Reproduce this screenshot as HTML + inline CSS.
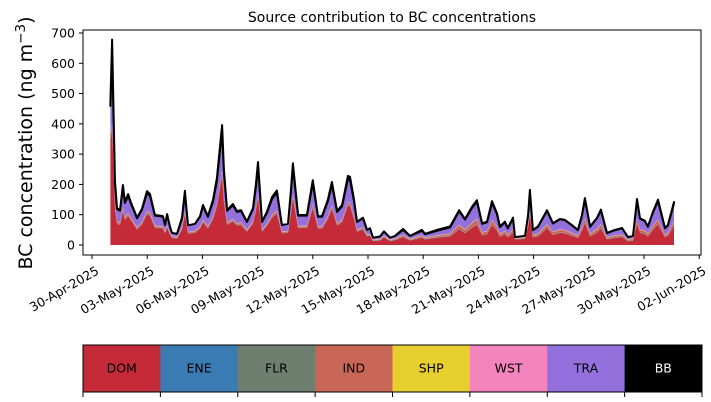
<!DOCTYPE html>
<html><head><meta charset="utf-8">
<style>
html,body{margin:0;padding:0;background:#fff;}
svg{display:block;font-family:"DejaVu Sans","Liberation Sans",sans-serif;}
</style></head>
<body>
<svg id="chart" width="711" height="402" viewBox="0 0 711 402" xmlns="http://www.w3.org/2000/svg">
<text x="392" y="22" font-size="14" text-anchor="middle">Source contribution to BC concentrations</text>
<text transform="translate(32,143) rotate(-90)" font-size="19" text-anchor="middle">BC concentration (ng m<tspan font-size="13.5" dy="-7">−3</tspan><tspan dy="7">)</tspan></text>
<g id="layers"></g>
<g id="yaxis"></g>
<g id="xaxis"></g>
<rect x="83" y="30" width="618" height="225" fill="none" stroke="#000" stroke-width="1"/>
<g id="cbar"></g>
</svg>
<script>
const days=[0,0.09,0.25,0.36,0.52,0.68,0.79,0.96,1.12,1.45,1.72,1.99,2.15,2.42,2.7,2.86,2.97,3.08,3.24,3.35,3.62,3.89,4.05,4.22,4.6,4.87,5.03,5.3,5.58,5.79,6.07,6.17,6.34,6.66,6.88,7.1,7.42,7.75,7.91,8.02,8.24,8.51,8.78,9.05,9.32,9.65,9.81,9.92,10.2,10.68,11.0,11.28,11.5,11.82,12.04,12.32,12.59,12.91,13.02,13.24,13.4,13.73,13.95,14.11,14.27,14.65,14.87,15.2,15.47,15.91,16.28,16.93,17.1,17.75,18.46,18.95,19.27,19.65,19.92,20.2,20.47,20.74,21.01,21.17,21.44,21.6,21.88,21.99,22.53,22.7,22.8,22.96,23.24,23.73,24.05,24.43,24.7,25.08,25.41,25.63,25.79,26.07,26.45,26.66,26.99,27.32,27.81,28.13,28.4,28.62,28.78,29.05,29.21,29.49,29.76,30.14,30.3,30.63];
const total=[473,678,209,122,115,198,143,168,140,90,120,178,168,99,97,95,66,102,60,40,37,90,179,65,70,95,132,95,150,221,396,250,115,135,112,115,77,122,200,274,77,110,158,180,66,70,180,270,99,99,214,95,95,150,208,112,132,228,225,150,77,90,50,55,24,28,45,24,30,53,30,50,37,50,61,115,86,126,148,72,77,145,105,61,77,56,90,26,30,100,182,50,61,115,72,86,83,66,50,100,155,61,90,117,40,48,56,26,30,152,88,80,61,110,150,56,66,142];
const dom=[350,380,120,70,66,113,82,96,80,51,68,101,96,56,55,54,38,58,34,23,21,51,102,37,40,54,75,54,86,126,226,143,66,77,64,66,44,70,114,156,44,63,90,103,38,40,103,154,56,56,122,54,54,86,119,64,75,130,128,86,44,51,28,31,13,15,25,13,16,26,15,24,18,24,28,52,39,57,67,32,35,65,47,27,35,25,40,18,20,60,100,25,28,55,33,40,38,30,23,47,72,28,41,54,18,22,26,12,14,70,40,36,28,50,68,25,30,64];
const ind=[15,20,8,5,5,8,6,7,6,4,5,7,7,4,4,4,3,4,2,2,2,4,7,3,3,4,5,4,6,9,16,10,5,5,4,5,3,5,8,11,3,4,6,7,3,3,7,11,4,4,9,4,4,6,8,4,5,9,9,6,3,4,2,2,1,1,2,1,2,4,2,4,3,4,6,12,9,13,15,7,8,14,10,6,8,6,9,1,2,6,10,4,6,10,7,8,8,6,5,9,14,6,9,11,4,5,5,3,3,13,8,8,6,10,13,5,6,12];
const tra=[90,230,70,40,38,65,47,55,46,29,40,59,55,33,32,31,21,34,20,11,10,29,59,21,23,31,44,31,49,73,131,83,38,45,37,38,25,40,66,90,25,36,52,59,21,23,59,89,33,33,70,31,31,49,69,37,44,75,74,49,25,29,16,18,6,8,14,6,8,16,9,15,11,15,20,44,32,48,57,27,28,56,40,22,28,20,35,3,4,28,62,16,22,44,27,33,32,25,17,38,60,22,35,45,13,16,20,7,9,60,35,31,22,44,60,21,25,57];
const sources=["DOM","ENE","FLR","IND","SHP","WST","TRA","BB"];
const colors=["#c42a37","#3b7bb3","#6e7f70","#c96757","#e6cf2e","#f484bd","#9370db","#000000"];
const yTicks=[0,100,200,300,400,500,600,700];
const xTickLabels=["30-Apr-2025","03-May-2025","06-May-2025","09-May-2025","12-May-2025","15-May-2025","18-May-2025","21-May-2025","24-May-2025","27-May-2025","30-May-2025","02-Jun-2025"];
const xTickDays=[-1,2,5,8,11,14,17,20,23,26,29,32];

const NS="http://www.w3.org/2000/svg";
function X(d){return 110.4+d*18.4;}
function Y(v){return 245-v*0.3029;}
const n=days.length;
const ene=days.map(()=>1),flr=days.map(()=>1),shp=days.map(()=>1),wst=days.map(()=>1);
const bb=total.map((t,i)=>Math.max(0,t-dom[i]-ind[i]-tra[i]-4));
const series=[dom,ene,flr,ind,shp,wst,tra,bb];
const layers=document.getElementById('layers');
let base=days.map(()=>0);
series.forEach((s,k)=>{
  const top=base.map((b,i)=>b+s[i]);
  let d="M"+X(days[0])+","+Y(top[0]);
  for(let i=1;i<n;i++)d+="L"+X(days[i]).toFixed(1)+","+Y(top[i]).toFixed(1);
  for(let i=n-1;i>=0;i--)d+="L"+X(days[i]).toFixed(1)+","+Y(base[i]).toFixed(1);
  d+="Z";
  const p=document.createElementNS(NS,'path');
  p.setAttribute('d',d);p.setAttribute('fill',colors[k]);
  if(k===7){p.setAttribute('stroke','#000');p.setAttribute('stroke-width','2');p.setAttribute('stroke-linejoin','round');}
  
  
  layers.appendChild(p);
  base=top;
});
const ya=document.getElementById('yaxis');
yTicks.forEach(v=>{
  const l=document.createElementNS(NS,'line');
  l.setAttribute('x1',79);l.setAttribute('x2',83);l.setAttribute('y1',Y(v));l.setAttribute('y2',Y(v));l.setAttribute('stroke','#000');
  
  
  ya.appendChild(l);
  const t=document.createElementNS(NS,'text');
  t.setAttribute('x',75);t.setAttribute('y',Y(v)+4.5);t.setAttribute('font-size','12.5');t.setAttribute('text-anchor','end');
  t.textContent=v;
  
  
  ya.appendChild(t);
});
const xa=document.getElementById('xaxis');
xTickDays.forEach((d,i)=>{
  const x=X(d);
  const l=document.createElementNS(NS,'line');
  l.setAttribute('x1',x);l.setAttribute('x2',x);l.setAttribute('y1',255);l.setAttribute('y2',259);l.setAttribute('stroke','#000');
  
  
  xa.appendChild(l);
  const t=document.createElementNS(NS,'text');
  t.setAttribute('transform','translate('+(x+3)+',265) rotate(-30)');
  t.setAttribute('font-size','12.5');t.setAttribute('text-anchor','end');t.setAttribute('dominant-baseline','hanging');
  t.textContent=xTickLabels[i];
  
  
  xa.appendChild(t);
});
const cb=document.getElementById('cbar');
const cw=(702-83)/sources.length;
sources.forEach((s,i)=>{
  const r=document.createElementNS(NS,'rect');
  r.setAttribute('x',83+i*cw);r.setAttribute('y',345);r.setAttribute('width',cw+0.5);r.setAttribute('height',47);r.setAttribute('fill',colors[i]);
  
  
  cb.appendChild(r);
  const t=document.createElementNS(NS,'text');
  t.setAttribute('x',83+(i+0.5)*cw);t.setAttribute('y',372.5);t.setAttribute('font-size','12.5');t.setAttribute('text-anchor','middle');
  t.setAttribute('fill',s==="BB"?"#fff":"#000");
  t.textContent=s;
  
  
  cb.appendChild(t);
});
for(let i=0;i<=sources.length;i++){
  const l=document.createElementNS(NS,'line');
  const x=83+i*cw;
  l.setAttribute('x1',x);l.setAttribute('x2',x);l.setAttribute('y1',392);l.setAttribute('y2',397);l.setAttribute('stroke','#000');
  
  
  cb.appendChild(l);
}
const fr=document.createElementNS(NS,'rect');
fr.setAttribute('x',83);fr.setAttribute('y',345);fr.setAttribute('width',619);fr.setAttribute('height',47);fr.setAttribute('fill','none');fr.setAttribute('stroke','#000');


cb.appendChild(fr);
</script>
</body></html>
